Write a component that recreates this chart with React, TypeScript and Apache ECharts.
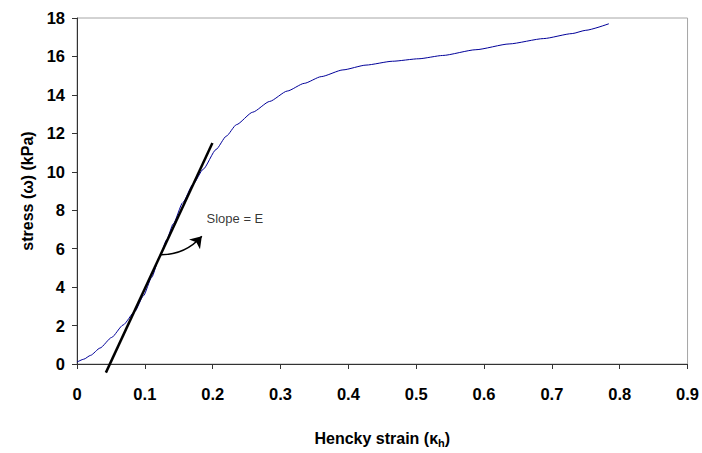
import React, { useEffect, useRef } from "react";
import * as echarts from "echarts";

const strain = [0, 0.01, 0.02, 0.034, 0.051, 0.068, 0.085, 0.098, 0.11, 0.122, 0.132, 0.142, 0.156, 0.171, 0.186, 0.205, 0.22, 0.235, 0.259, 0.284, 0.31, 0.335, 0.36, 0.392, 0.426, 0.465, 0.504, 0.539, 0.588, 0.637, 0.688, 0.73, 0.75, 0.784];
const stress = [0.1, 0.25, 0.45, 0.83, 1.38, 2.03, 2.72, 3.55, 4.5, 5.6, 6.45, 7.3, 8.4, 9.35, 10.13, 11.16, 11.85, 12.45, 13.1, 13.66, 14.2, 14.6, 14.95, 15.3, 15.55, 15.75, 15.88, 16.05, 16.35, 16.65, 16.93, 17.19, 17.36, 17.7];

const tangentStrain = [0.0426, 0.1996];
const tangentStress = [-0.45, 11.5];

const arrowFrom = [0.124, 5.68];
const arrowTo = [0.184, 6.65];

const annotationPoint = [0.188, 7.55];
const annotationText = "Slope = E";

const xTitle = "Hencky strain (κ{sub|h})";
const yTitle = "stress (ω) (kPa)";

const FONT = "'Liberation Sans', Arial, sans-serif";

export default function App() {
  const ref = useRef<HTMLDivElement>(null);
  useEffect(() => {
    if (!ref.current) return;
    const chart = echarts.init(ref.current, null, { renderer: "svg" });
    const curve = strain.map((x, i) => [x, stress[i]]);
    const tangent = tangentStrain.map((x, i) => [x, tangentStress[i]]);
    chart.setOption({
      animation: false,
      backgroundColor: "#ffffff",
      grid: {
        left: 77,
        right: 13,
        top: 18,
        bottom: 87,
        show: true,
        borderColor: "#a6a6a6",
        borderWidth: 1,
        backgroundColor: "transparent",
      },
      xAxis: {
        type: "value",
        min: 0,
        max: 0.9,
        interval: 0.1,
        name: xTitle,
        nameLocation: "middle",
        nameGap: 65,
        nameTextStyle: {
          fontFamily: FONT,
          fontWeight: "bold",
          fontSize: 16,
          color: "#000",
          rich: {
            sub: { fontFamily: FONT, fontWeight: "bold", fontSize: 11, color: "#000", verticalAlign: "bottom", padding: [8, 0, 0, 0] },
          },
        },
        axisLine: { show: true, onZero: false, lineStyle: { color: "#333", width: 1 } },
        axisTick: { show: true, length: 5, lineStyle: { color: "#333" } },
        axisLabel: { margin: 21, fontFamily: FONT, fontWeight: "bold", fontSize: 16.5, color: "#000" },
        splitLine: { show: false },
      },
      yAxis: {
        type: "value",
        min: 0,
        max: 18,
        interval: 2,
        name: yTitle,
        nameLocation: "middle",
        nameGap: 40,
        nameRotate: 90,
        nameTextStyle: { fontFamily: FONT, fontWeight: "bold", fontSize: 16, color: "#000" },
        axisLine: { show: true, lineStyle: { color: "#333", width: 1 } },
        axisTick: { show: true, length: 5, lineStyle: { color: "#333" } },
        axisLabel: { margin: 12, fontFamily: FONT, fontWeight: "bold", fontSize: 16.5, color: "#000" },
        splitLine: { show: false },
      },
      series: [
        {
          type: "line",
          data: curve,
          showSymbol: false,
          smooth: 0.2,
          smoothMonotone: "x",
          lineStyle: { color: "#000099", width: 1 },
          z: 3,
        },
        {
          type: "line",
          data: tangent,
          showSymbol: false,
          clip: false,
          lineStyle: { color: "#000", width: 2.5 },
          z: 4,
        },
        {
          type: "lines",
          coordinateSystem: "cartesian2d",
          symbol: ["none", "arrow"],
          symbolSize: 11,
          lineStyle: { color: "#000", width: 1.5, curveness: -0.22, opacity: 1 },
          data: [{ coords: [arrowFrom, arrowTo] }],
          z: 5,
        },
        {
          type: "scatter",
          data: [annotationPoint],
          symbolSize: 0,
          label: {
            show: true,
            position: "right",
            distance: 2,
            formatter: annotationText,
            fontFamily: FONT,
            fontSize: 13,
            color: "#000",
          },
          z: 6,
        },
      ],
    });
    return () => chart.dispose();
  }, []);
  return <div ref={ref} style={{ position: "absolute", left: 0, top: 0, width: 702, height: 453 }} />;
}
